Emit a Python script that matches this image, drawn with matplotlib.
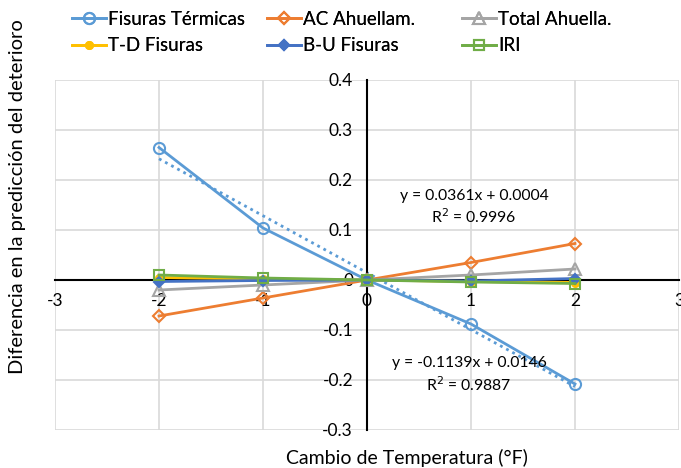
import numpy as np
import matplotlib
matplotlib.use('Agg')
import matplotlib.pyplot as plt

plt.rcParams['font.family'] = ['Lato', 'DejaVu Sans']
plt.rcParams['axes.unicode_minus'] = False

# Temperature change and model response per distress type
temp_change = [-2, -1, 0, 1, 2]
fisuras_termicas = [0.265, 0.104, 0.0, -0.088, -0.208]
ac_ahuellam = [-0.072, -0.036, 0.0, 0.035, 0.073]
total_ahuella = [-0.020, -0.010, 0.0, 0.010, 0.022]
td_fisuras = [0.005, 0.002, 0.0, -0.003, -0.005]
bu_fisuras = [-0.003, -0.001, 0.0, -0.002, 0.003]
iri = [0.010, 0.004, 0.0, -0.004, -0.007]

# Linear trend coefficients (slope, intercept, R²)
trend_ft = (-0.1139, 0.0146, 0.9887)
trend_ac = (0.0361, 0.0004, 0.9996)

fig = plt.figure(figsize=(6.81, 4.68), dpi=100)
ax = fig.add_axes([55 / 681, 1 - 430 / 468, 624 / 681, 350 / 468])

series = [
    ('Fisuras Térmicas', fisuras_termicas, '#5B9BD5', 'o', 'none', 8),
    ('AC Ahuellam.', ac_ahuellam, '#ED7D31', 'D', 'none', 6.5),
    ('Total Ahuella.', total_ahuella, '#A5A5A5', '^', 'none', 8),
    ('T-D Fisuras', td_fisuras, '#FFC000', 'o', '#FFC000', 5),
    ('B-U Fisuras', bu_fisuras, '#4472C4', 'D', '#4472C4', 5.5),
    ('IRI', iri, '#70AD47', 's', 'none', 7.5),
]
handles = []
for i, (name, vals, color, mk, fc, ms) in enumerate(series):
    h, = ax.plot(temp_change, vals, color=color, marker=mk, markerfacecolor=fc,
                 markeredgecolor=color, markersize=ms, markeredgewidth=1.5,
                 linewidth=2, label=name, zorder=3 + i)
    handles.append(h)

# Dotted trend line for thermal cracking
xt = np.array([-2, 2])
ax.plot(xt, trend_ft[0] * xt + trend_ft[1], color='#5B9BD5',
        linestyle=(0, (1, 1.5)), linewidth=2, zorder=2)

ax.set_xlim(-3, 3)
ax.set_ylim(-0.3, 0.4)
ax.set_xticks(range(-3, 4))
yt = np.round(np.arange(-0.3, 0.41, 0.1), 1)
ax.set_yticks(yt)
ax.set_yticklabels([f'{v:g}' for v in yt])
ax.grid(True, color='#D9D9D9', linewidth=1.2, zorder=0)
ax.set_axisbelow(True)

for s in ['top', 'right']:
    ax.spines[s].set_visible(False)
for s in ['bottom', 'left']:
    ax.spines[s].set_position(('data', 0))
    ax.spines[s].set_zorder(2.5)
    ax.spines[s].set_linewidth(1.5)
ax.tick_params(length=0, labelsize=12.5, colors='black')
ax.tick_params(axis='x', pad=9)
ax.tick_params(axis='y', pad=10)

ax.text(1.03, 0.145, f'y = {trend_ac[0]:.4f}x + {trend_ac[1]:.4f}\nR$^2$ = {trend_ac[2]:.4f}',
        ha='center', va='center', fontsize=11.3, linespacing=1.3, zorder=10)
ax.text(0.98, -0.19, f'y = {trend_ft[0]:.4f}x + {trend_ft[1]:.4f}\nR$^2$ = {trend_ft[2]:.4f}',
        ha='center', va='center', fontsize=11.3, linespacing=1.3, zorder=10)

fig.text(407 / 681, 1 - 458 / 468, 'Cambio de Temperatura (°F)', ha='center',
         va='center', fontsize=14)
fig.text(18 / 681, 1 - 197 / 468, 'Diferencia en la predicción del deterioro',
         ha='center', va='center', rotation=90, fontsize=14.5)

# Legend: three columns, two rows
col_x = [72, 267, 462]
for c in range(3):
    pair = [handles[c], handles[c + 3]]
    leg = fig.legend(pair, [h.get_label() for h in pair], loc='upper left',
                     bbox_to_anchor=(col_x[c] / 681, 1 - 11 / 468), frameon=False,
                     fontsize=13.5, handlelength=1.8, handletextpad=0.12,
                     labelspacing=0.5, borderaxespad=0, borderpad=0)
    fig.add_artist(leg)

fig.savefig('out.png', dpi=100)
